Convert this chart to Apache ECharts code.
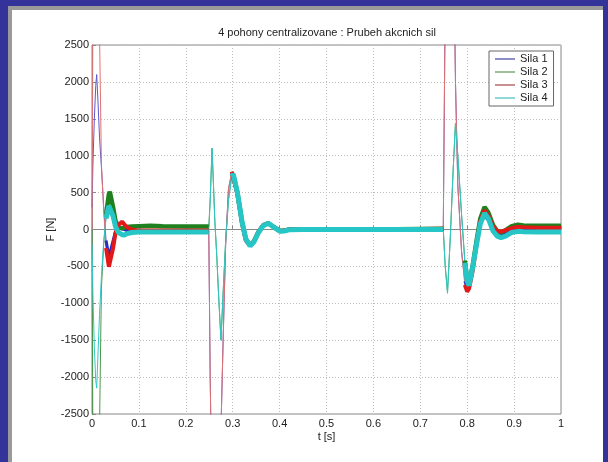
<!DOCTYPE html>
<html>
<head>
<meta charset="utf-8">
<script src="https://cdn.jsdelivr.net/npm/echarts@6/dist/echarts.min.js"></script>
<style>
  html, body { margin: 0; padding: 0; }
  body { width: 608px; height: 462px; background: #33339a; position: relative; overflow: hidden; }
  #frame { position: absolute; left: 8px; top: 6px; right: 5px; bottom: 0; background: #9a9a9a; }
  #inner { position: absolute; left: 4px; top: 4px; right: 0; bottom: 0; background: #fff; }
  #chart { position: absolute; left: 0; top: 0; width: 608px; height: 462px; }
</style>
</head>
<body>
<div id="frame"><div id="inner"></div></div>
<div id="chart"></div>
<script>
// time samples [s]
const time = [0, 0.002, 0.005, 0.008, 0.010, 0.013, 0.016, 0.020, 0.025, 0.030, 0.036, 0.038, 0.045, 0.050, 0.056, 0.064, 0.069, 0.075, 0.085,
  0.100, 0.125, 0.150, 0.200, 0.249,
  0.252, 0.256, 0.262, 0.266, 0.270, 0.275, 0.280, 0.285, 0.291, 0.298,
  0.301, 0.310, 0.320, 0.328, 0.337, 0.345, 0.355, 0.365, 0.376, 0.388,
  0.401, 0.410, 0.420, 0.450, 0.550, 0.650, 0.749,
  0.753, 0.758, 0.764, 0.770, 0.775, 0.780, 0.788, 0.795, 0.800, 0.804,
  0.812, 0.820, 0.828, 0.837, 0.845, 0.855, 0.864, 0.872, 0.882, 0.895,
  0.908, 0.920, 0.950, 1.000];

// forces [N]
const sila1 = [300, 900, 1500, 1950, 2100, 1700, 1250, 850, 300, -150, -370, -350, -150, -30, 20, 10, 0, -15, -20,
  -20, -20, -20, -20, -20,
  -2000, -3800, -4500, -4200, -3600, -2700, -1400, -200, 550, 770,
  750, 470, 80, -150, -215, -160, -30, 60, 85, 30,
  -20, -15, 0, 0, 0, 0, 0,
  3000, 5500, 6500, 4500, 2000, 600, -300, -700, -780, -750,
  -520, -200, 80, 180, 130, 0, -60, -70, -50, 0,
  20, 0, -20, -20];

const sila2 = [0, -3000, -5000, -5500, -5000, -3800, -2700, -800, -200, 200, 480, 512, 300, 120, 30, 15, 25, 35, 40,
  45, 50, 45, 40, 40,
  400, 1100, 100, -350, -900, -1500, -800, -150, 400, 720,
  750, 500, 100, -130, -215, -165, -35, 55, 85, 30,
  -20, -15, 0, 5, 5, 5, 10,
  -480, -850, -100, 800, 1440, 1000, 200, -420, -680, -740,
  -480, -150, 150, 305, 230, 60, -20, -40, -10, 45,
  65, 55, 50, 50];

const sila3 = [0, 3000, 5000, 5500, 5000, 3800, 2700, 900, 250, -250, -504, -480, -250, -50, 60, 106, 70, 30, 0,
  -15, -15, -15, -15, -15,
  -2000, -3800, -4500, -4200, -3600, -2700, -1400, -200, 550, 783,
  760, 480, 80, -150, -220, -160, -30, 60, 85, 30,
  -20, -15, 0, 5, 5, 5, 10,
  3000, 5500, 6500, 4500, 2000, 600, -300, -750, -842, -800,
  -550, -200, 120, 260, 190, 40, -20, -30, -10, 20,
  35, 30, 25, 25];

const sila4 = [-200, -900, -1600, -2050, -2150, -1650, -1150, -650, -150, 150, 320, 330, 180, 40, -40, -70, -75, -55, -40,
  -35, -35, -35, -35, -35,
  400, 1100, 100, -350, -900, -1500, -800, -150, 400, 720,
  750, 500, 100, -130, -224, -170, -40, 50, 84, 30,
  -25, -20, -5, 0, 0, 0, 0,
  -500, -865, -100, 800, 1440, 1000, 200, -450, -700, -760,
  -500, -200, 80, 220, 150, -20, -90, -110, -90, -40,
  -25, -30, -35, -35];

const names = ['Sila 1', 'Sila 2', 'Sila 3', 'Sila 4'];
const xTickLabels = ['0', '0.1', '0.2', '0.3', '0.4', '0.5', '0.6', '0.7', '0.8', '0.9', '1'];

// quiet stretches where the measurement noise makes the trace look thick
const noisy = [[0.030, 0.249], [0.298, 0.749], [0.795, 1.0]];
const colors = ['#2a2ac6', '#1f801f', '#e31818', '#26c6c6'];
const thinColors = ['#5a5ad0', '#4a984a', '#e07272', '#30c8c8'];
const legendColors = ['#8e8ec6', '#9cc09c', '#c89090', '#8ed8d8'];
const bandWidth = [3, 4.5, 4, 5];
const FONT = 'Liberation Sans, Arial, sans-serif';

const chart = echarts.init(document.getElementById('chart'));
const values = [sila1, sila2, sila3, sila4];
const inNoisy = (t) => noisy.some(([a, b]) => t >= a - 1e-9 && t <= b + 1e-9);

const thin = values.map((v, i) => ({
  name: names[i], type: 'line', showSymbol: false, symbol: 'none', z: 2,
  data: time.map((t, k) => [t, v[k]]),
  lineStyle: { width: 1, color: thinColors[i] },
  itemStyle: { color: colors[i] }
}));
const bands = values.map((v, i) => ({
  name: names[i], type: 'line', showSymbol: false, symbol: 'none', z: 3,
  data: time.map((t, k) => [t, inNoisy(t) ? v[k] : null]),
  lineStyle: { width: bandWidth[i], color: colors[i] },
  itemStyle: { color: colors[i] }
}));

chart.setOption({
  animation: false,
  backgroundColor: 'transparent',
  graphic: [{
    type: 'text', x: 327, y: 27,
    style: { text: '4 pohony centralizovane : Prubeh akcnich sil', align: 'center', fill: '#222', font: '11px ' + FONT }
  }],
  legend: {
    data: names.map((n, i) => ({ name: n, itemStyle: { color: legendColors[i] } })),
    orient: 'vertical', left: 489, top: 51,
    icon: 'rect', itemWidth: 20, itemHeight: 2, itemGap: 1,
    padding: [2, 6, 2, 6],
    backgroundColor: '#fff', borderColor: '#666', borderWidth: 1, borderRadius: 0,
    textStyle: { color: '#222', fontSize: 11, fontFamily: FONT, lineHeight: 12 },
    selectedMode: false
  },
  grid: { left: 92, right: 47, top: 45, bottom: 48, show: true, borderColor: '#888', borderWidth: 1, backgroundColor: '#fff' },
  xAxis: {
    type: 'value', min: 0, max: 1, interval: 0.1,
    name: 't [s]', nameLocation: 'middle', nameGap: 17, nameMoveOverlap: false,
    nameTextStyle: { color: '#222', fontSize: 11, fontFamily: FONT },
    axisLine: { lineStyle: { color: '#888' } },
    axisTick: { inside: true, length: 4, lineStyle: { color: '#888' } },
    axisLabel: { color: '#222', fontSize: 11, fontFamily: FONT, margin: 4, formatter: (v) => xTickLabels[Math.round(v * 10)] },
    splitLine: { show: true, lineStyle: { color: '#bdbdbd', type: [1, 2] } }
  },
  yAxis: {
    type: 'value', min: -2500, max: 2500, interval: 500,
    name: 'F [N]', nameLocation: 'middle', nameGap: 36, nameMoveOverlap: false,
    nameTextStyle: { color: '#222', fontSize: 11, fontFamily: FONT },
    axisLine: { show: true, lineStyle: { color: '#888' } },
    axisTick: { show: true, inside: true, length: 4, lineStyle: { color: '#888' } },
    axisLabel: { color: '#222', fontSize: 11, fontFamily: FONT, margin: 3, formatter: (v) => String(v) },
    splitLine: { show: true, lineStyle: { color: '#bdbdbd', type: [1, 2] } }
  },
  series: [...thin, ...bands]
});
</script>
</body>
</html>
